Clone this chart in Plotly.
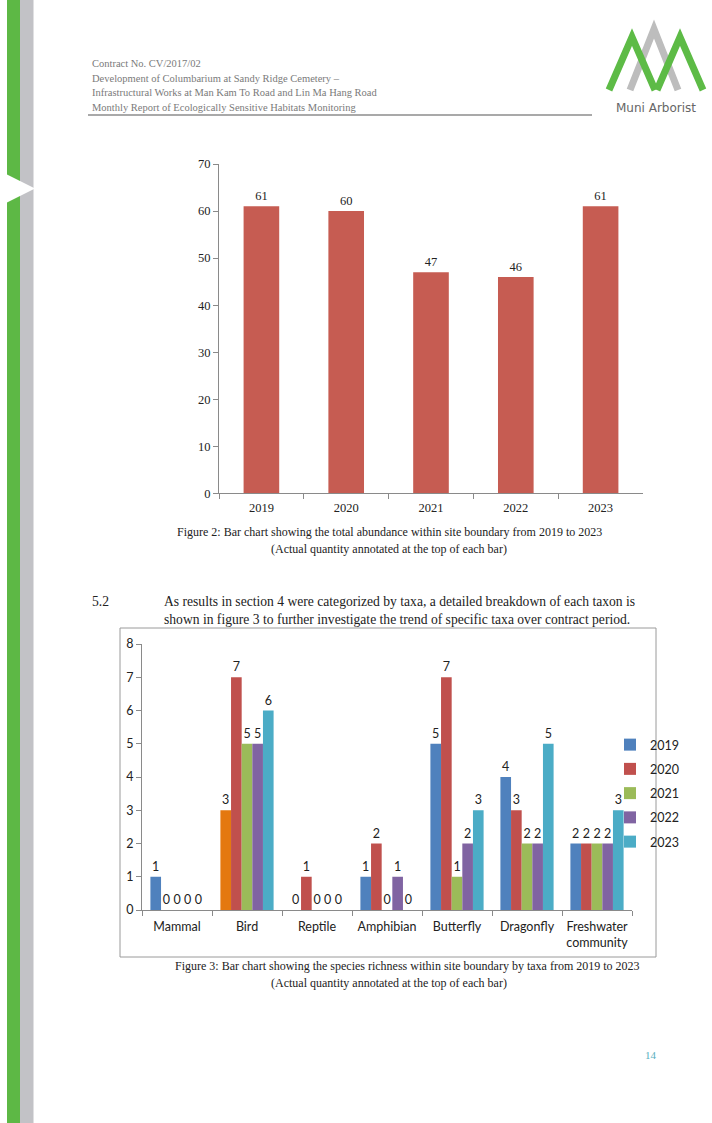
import plotly.graph_objects as go

# ---------------- data ----------------
years = ["2019", "2020", "2021", "2022", "2023"]
total_abundance = [61, 60, 47, 46, 61]

taxa = ["Mammal", "Bird", "Reptile", "Amphibian", "Butterfly", "Dragonfly",
        "Freshwater<br>community"]
richness_2019 = [1, 3, 0, 1, 5, 4, 2]
richness_2020 = [0, 7, 1, 2, 7, 3, 2]
richness_2021 = [0, 5, 0, 0, 1, 2, 2]
richness_2022 = [0, 5, 0, 1, 2, 2, 2]
richness_2023 = [0, 6, 0, 0, 3, 5, 3]
series_names = ["2019", "2020", "2021", "2022", "2023"]

header_lines = [
    "Contract No. CV/2017/02",
    "Development of Columbarium at Sandy Ridge Cemetery \u2013",
    "Infrastructural Works at Man Kam To Road and Lin Ma Hang Road",
    "Monthly Report of Ecologically Sensitive Habitats Monitoring",
]
fig2_caption = ["Figure 2: Bar chart showing the total abundance within site boundary from 2019 to 2023",
                "(Actual quantity annotated at the top of each bar)"]
fig3_caption = ["Figure 3: Bar chart showing the species richness within site boundary by taxa from 2019 to 2023",
                "(Actual quantity annotated at the top of each bar)"]
para_num = "5.2"
para_lines = ["As results in section 4 were categorized by taxa, a detailed breakdown of each taxon is",
              "shown in figure 3 to further investigate the trend of specific taxa over contract period."]
page_number = "14"

# ---------------- layout helpers ----------------
W, H = 712, 1123
def fx(x):
    return x / W
def fy(y):
    return 1 - y / H

SERIF = "Liberation Serif"
SANS = "Lato"
AXIS_GREY = "#8a8a8a"

fig = go.Figure()

# chart 1
fig.add_trace(go.Bar(
    x=years, y=total_abundance, xaxis="x", yaxis="y",
    marker=dict(color="#C65C52", line=dict(width=0)),
    text=[str(v) for v in total_abundance], textposition="outside",
    textfont=dict(family=SERIF, size=12.5, color="#222"),
    constraintext="none", cliponaxis=False, showlegend=False, width=0.42,
))

# chart 2
colors = ["#4F81BD", "#C0504D", "#9BBB59", "#8064A2", "#4BACC6"]
all_series = [richness_2019, richness_2020, richness_2021, richness_2022, richness_2023]
for i, (name, vals) in enumerate(zip(series_names, all_series)):
    col = colors[i]
    if i == 0:
        col = [colors[0]] * len(vals)
        col[1] = "#E4780F"
    fig.add_trace(go.Bar(
        x=taxa, y=vals, name=name, xaxis="x2", yaxis="y2",
        marker=dict(color=col, line=dict(width=0)),
        text=[str(v) for v in vals], textposition="outside",
        textfont=dict(family=SANS, size=12.5, color="#222"),
        constraintext="none", cliponaxis=False,
        legendgroup=name,
    ))

axis_common = dict(showline=True, linecolor=AXIS_GREY, linewidth=1, ticks="outside",
                   tickcolor=AXIS_GREY, ticklen=5, showgrid=False, zeroline=False,
                   fixedrange=True, automargin=False)

fig.update_layout(
    width=W, height=H, autosize=False,
    margin=dict(l=0, r=0, t=0, b=0, pad=0, autoexpand=False),
    paper_bgcolor="white", plot_bgcolor="rgba(0,0,0,0)",
    barmode="group", bargap=0.24, bargroupgap=0,
    xaxis=dict(domain=[fx(219), fx(643)], anchor="y", type="category",
               tickson="boundaries", tickangle=0, ticklabelstandoff=3,
               tickfont=dict(family=SERIF, size=12.5, color="#222"), **axis_common),
    yaxis=dict(domain=[fy(493.3), fy(164)], anchor="x", range=[0, 70], dtick=10,
               tickfont=dict(family=SERIF, size=12.5, color="#222"), **axis_common),
    xaxis2=dict(domain=[fx(142), fx(632)], anchor="y2", type="category",
                tickson="boundaries", tickangle=0, ticklabelstandoff=5,
                tickfont=dict(family=SANS, size=12.5, color="#222"), **axis_common),
    yaxis2=dict(domain=[fy(910), fy(644)], anchor="x2", range=[0, 8], dtick=1,
                tickfont=dict(family=SANS, size=12.5, color="#222"), **axis_common),
    legend=dict(x=fx(610), y=fy(730), xanchor="left", yanchor="top",
                font=dict(family=SANS, size=12.5, color="#222"),
                bgcolor="rgba(0,0,0,0)", tracegroupgap=5, itemwidth=30),
    showlegend=True,
)

shapes = []
# side bars
shapes.append(dict(type="rect", xref="paper", yref="paper", x0=fx(7), x1=fx(20), y0=0, y1=1,
                   fillcolor="#5DB845", line=dict(width=0), layer="below"))
shapes.append(dict(type="rect", xref="paper", yref="paper", x0=fx(20), x1=fx(33.5), y0=0, y1=1,
                   fillcolor="#C2C2C6", line=dict(width=0), layer="below"))
shapes.append(dict(type="path", xref="paper", yref="paper",
                   path=f"M {fx(4)} {fy(173)} L {fx(35)} {fy(188.5)} L {fx(4)} {fy(204)} Z",
                   fillcolor="white", line=dict(width=0), layer="below"))
# header underline
shapes.append(dict(type="line", xref="paper", yref="paper", x0=fx(88), x1=fx(592),
                   y0=fy(115), y1=fy(115), line=dict(color="#8c8c8c", width=1.5)))
# logo
def vpath(a, b, c):
    return (f"M {fx(a[0])} {fy(a[1])} L {fx(b[0])} {fy(b[1])} L {fx(c[0])} {fy(c[1])}")
shapes.append(dict(type="path", xref="paper", yref="paper",
                   path=vpath((630, 90), (654, 29), (678, 90)),
                   line=dict(color="#BDBDBD", width=7)))
shapes.append(dict(type="path", xref="paper", yref="paper",
                   path=vpath((609, 90), (632, 37), (655, 90)),
                   line=dict(color="#5DBB46", width=7)))
shapes.append(dict(type="path", xref="paper", yref="paper",
                   path=vpath((657, 90), (680, 37), (703, 90)),
                   line=dict(color="#5DBB46", width=7)))
# chart 2 frame
shapes.append(dict(type="rect", xref="paper", yref="paper", x0=fx(120), x1=fx(656),
                   y0=fy(957), y1=fy(628), line=dict(color="#9a9a9a", width=1),
                   fillcolor="rgba(0,0,0,0)", layer="below"))
fig.update_layout(shapes=shapes)

ann = []
def text(x, y, s, size, color="#222", family=SERIF, xanchor="left"):
    ann.append(dict(x=fx(x), y=fy(y), xref="paper", yref="paper", text=s, showarrow=False,
                    xanchor=xanchor, yanchor="middle",
                    font=dict(family=family, size=size, color=color)))

for yy, line in zip([63, 78, 92, 107], header_lines):
    text(90, yy, line, 10.5, color="#7a7a7a")
text(656, 108, "Muni Arborist", 12, color="#666", family="DejaVu Sans", xanchor="center")

text(390, 532, fig2_caption[0], 12, xanchor="center")
text(389, 549, fig2_caption[1], 12, xanchor="center")
text(90, 601, para_num, 13.6)
text(162, 601, para_lines[0], 13.6)
text(162, 619, para_lines[1], 13.6)
text(408, 966, fig3_caption[0], 12, xanchor="center")
text(389, 983, fig3_caption[1], 12, xanchor="center")
text(651, 1055, page_number, 11, color="#5AAFC0", xanchor="center")
fig.update_layout(annotations=ann)

post = ("document.documentElement.style.margin='0';document.body.style.margin='0';"
        "document.documentElement.style.overflow='hidden';"
        "var d=document.getElementById('{plot_id}');d.style.position='absolute';"
        "d.style.left='0px';d.style.top='0px';")
fig.write_html("out.html", post_script=post, config={"displayModeBar": False})
